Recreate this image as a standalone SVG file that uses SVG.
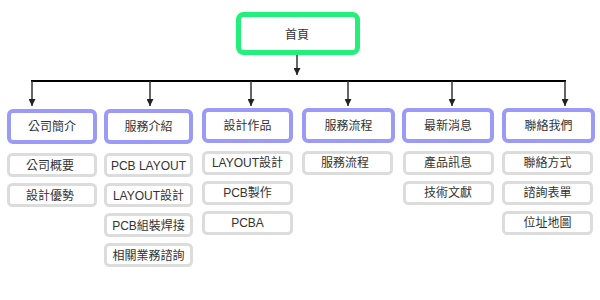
<svg xmlns="http://www.w3.org/2000/svg" width="600" height="300" viewBox="0 0 600 300">
<defs>
<marker id="ah" viewBox="0 0 10 10" refX="10" refY="5" markerWidth="7" markerHeight="7" markerUnits="userSpaceOnUse" orient="auto">
<path d="M0,0 L10,5 L0,10 z" fill="#222"/>
</marker>
<style>
text{font-family:"Liberation Sans","Noto Sans CJK TC",sans-serif;font-size:12px;fill:#333;text-anchor:middle}
.root{fill:#fff;stroke:#22f07a;stroke-width:5}
.cat{fill:#fff;stroke:#9b9bf7;stroke-width:4}
.sub{fill:#fff;stroke:#dcdcdc;stroke-width:3}
.conn{stroke:#333;stroke-width:1.5;fill:none}
.bar{stroke:#000;stroke-width:2;fill:none}
</style>
</defs>
<rect width="600" height="300" fill="#fff"/>
<g id="connectors">
<line class="conn" x1="297" y1="55" x2="297" y2="75" marker-end="url(#ah)"/>
<line class="bar" x1="31" y1="81" x2="566" y2="81"/>
<line class="conn" x1="32" y1="81" x2="32" y2="106" marker-end="url(#ah)"/>
<line class="conn" x1="150" y1="81" x2="150" y2="106" marker-end="url(#ah)"/>
<line class="conn" x1="251" y1="81" x2="251" y2="106" marker-end="url(#ah)"/>
<line class="conn" x1="348" y1="81" x2="348" y2="106" marker-end="url(#ah)"/>
<line class="conn" x1="452" y1="81" x2="452" y2="106" marker-end="url(#ah)"/>
<line class="conn" x1="565" y1="81" x2="565" y2="106" marker-end="url(#ah)"/>
</g>
<g id="home"><rect class="root" x="238.5" y="14.5" width="119" height="38" rx="5"/><text x="297" y="39">首頁</text></g>

<g id="about"><rect class="cat" x="9" y="111" width="86" height="31" rx="4"/><text x="52" y="131">公司簡介</text></g>
<g id="about-1"><rect class="sub" x="8.5" y="154.5" width="87" height="21" rx="4"/><text x="50" y="170">公司概要</text></g>
<g id="about-2"><rect class="sub" x="8.5" y="184.5" width="87" height="21" rx="4"/><text x="50" y="200">設計優勢</text></g>

<g id="service"><rect class="cat" x="106" y="111" width="85" height="31" rx="4"/><text x="148.5" y="131">服務介紹</text></g>
<g id="service-1"><rect class="sub" x="105.5" y="154.5" width="86" height="21" rx="4"/><text x="148.5" y="170">PCB LAYOUT</text></g>
<g id="service-2"><rect class="sub" x="105.5" y="184.5" width="86" height="21" rx="4"/><text x="148.5" y="200">LAYOUT設計</text></g>
<g id="service-3"><rect class="sub" x="105.5" y="214.5" width="86" height="21" rx="4"/><text x="148.5" y="230">PCB組裝焊接</text></g>
<g id="service-4"><rect class="sub" x="105.5" y="244.5" width="86" height="21" rx="4"/><text x="148.5" y="260">相關業務諮詢</text></g>

<g id="works"><rect class="cat" x="204" y="110" width="87" height="31" rx="4"/><text x="247.5" y="130">設計作品</text></g>
<g id="works-1"><rect class="sub" x="203.5" y="152.5" width="88" height="21" rx="4"/><text x="247.5" y="167">LAYOUT設計</text></g>
<g id="works-2"><rect class="sub" x="203.5" y="182.5" width="88" height="21" rx="4"/><text x="247.5" y="197">PCB製作</text></g>
<g id="works-3"><rect class="sub" x="203.5" y="212.5" width="88" height="21" rx="4"/><text x="247.5" y="227">PCBA</text></g>

<g id="process"><rect class="cat" x="304" y="110" width="89" height="31" rx="4"/><text x="348.5" y="130">服務流程</text></g>
<g id="process-1"><rect class="sub" x="303.5" y="152.5" width="88" height="21" rx="4"/><text x="345" y="167">服務流程</text></g>

<g id="news"><rect class="cat" x="404" y="110" width="88" height="31" rx="4"/><text x="448" y="130">最新消息</text></g>
<g id="news-1"><rect class="sub" x="404.5" y="152.5" width="88" height="21" rx="4"/><text x="448" y="167">產品訊息</text></g>
<g id="news-2"><rect class="sub" x="404.5" y="182.5" width="88" height="21" rx="4"/><text x="448" y="197">技術文獻</text></g>

<g id="contact"><rect class="cat" x="504" y="110" width="89" height="31" rx="4"/><text x="548.5" y="130">聯絡我們</text></g>
<g id="contact-1"><rect class="sub" x="503.5" y="152.5" width="88" height="21" rx="4"/><text x="547.5" y="167">聯絡方式</text></g>
<g id="contact-2"><rect class="sub" x="503.5" y="182.5" width="88" height="21" rx="4"/><text x="547.5" y="197">諮詢表單</text></g>
<g id="contact-3"><rect class="sub" x="503.5" y="212.5" width="88" height="21" rx="4"/><text x="547.5" y="227">位址地圖</text></g>
</svg>
